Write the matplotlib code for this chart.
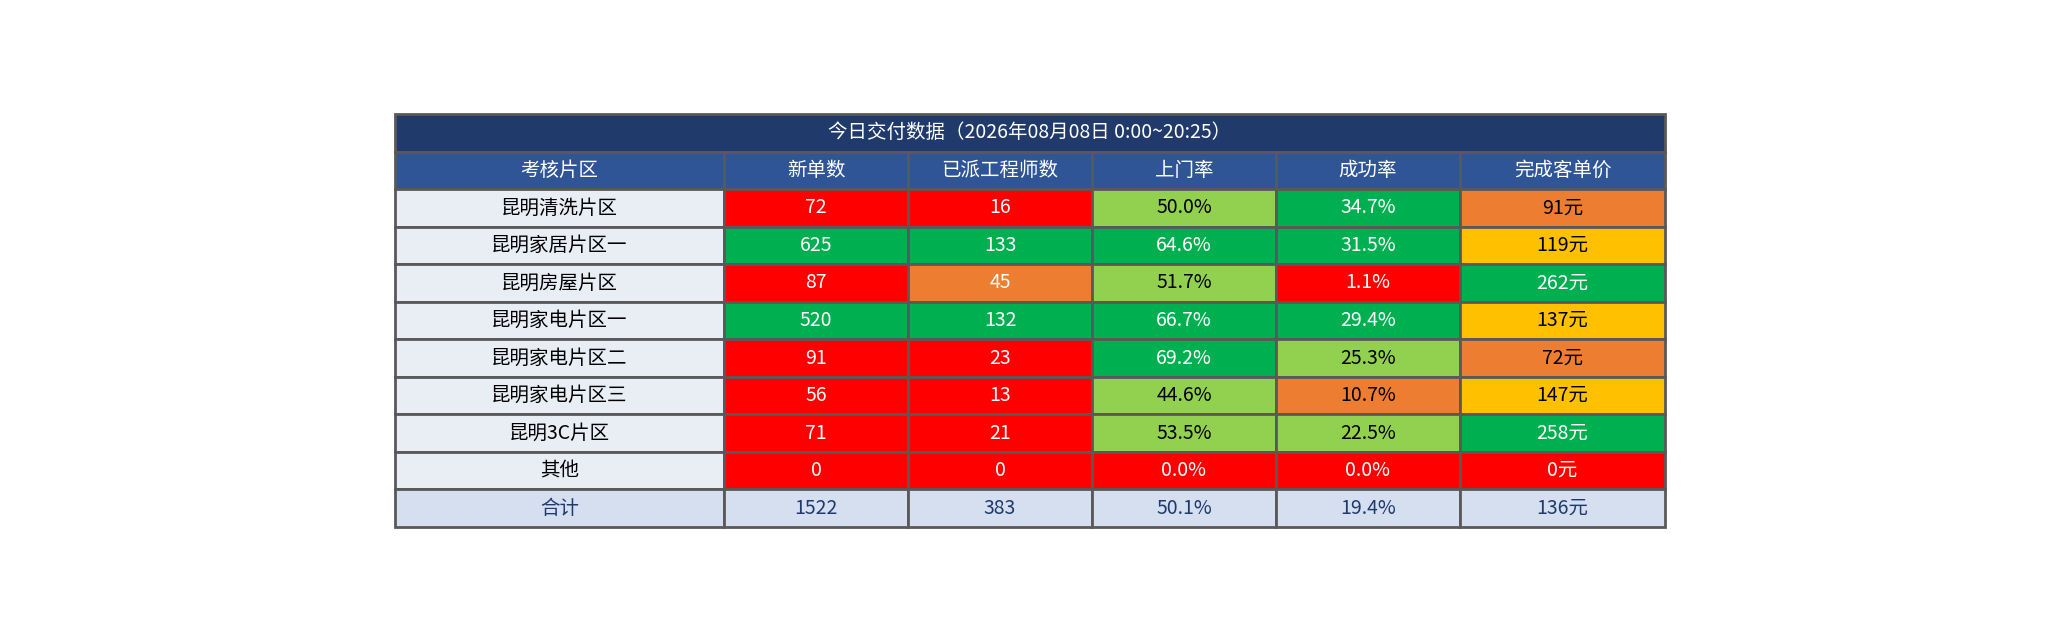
import matplotlib
matplotlib.use("Agg")
import matplotlib.pyplot as plt
from matplotlib.patches import Rectangle

plt.rcParams['font.family'] = ['Noto Sans CJK SC', 'DejaVu Sans']

title = "今日交付数据（2026年08月08日 0:00~20:25）"
headers = ["考核片区", "新单数", "已派工程师数", "上门率", "成功率", "完成客单价"]
regions = ["昆明清洗片区", "昆明家居片区一", "昆明房屋片区", "昆明家电片区一",
           "昆明家电片区二", "昆明家电片区三", "昆明3C片区", "其他"]
new_orders = [72, 625, 87, 520, 91, 56, 71, 0]
engineers = [16, 133, 45, 132, 23, 13, 21, 0]
visit_rate = [50.0, 64.6, 51.7, 66.7, 69.2, 44.6, 53.5, 0.0]
success_rate = [34.7, 31.5, 1.1, 29.4, 25.3, 10.7, 22.5, 0.0]
unit_price = [91, 119, 262, 137, 72, 147, 258, 0]
total = ["合计", "1522", "383", "50.1%", "19.4%", "136元"]

# colour levels per cell: R=red, G=green, L=light green, O=orange, Y=yellow
levels = [
    ["R", "R", "L", "G", "O"],
    ["G", "G", "G", "G", "Y"],
    ["R", "O", "L", "R", "G"],
    ["G", "G", "G", "G", "Y"],
    ["R", "R", "G", "L", "O"],
    ["R", "R", "L", "O", "Y"],
    ["R", "R", "L", "L", "G"],
    ["R", "R", "R", "R", "R"],
]
fills = {"R": "#FF0000", "G": "#00B050", "L": "#92D050", "O": "#ED7D31", "Y": "#FFC000"}

W, H = 2061, 642
fig = plt.figure(figsize=(W / 100, H / 100), dpi=100)
ax = fig.add_axes([0, 0, 1, 1])
ax.set_xlim(0, W)
ax.set_ylim(H, 0)
ax.axis("off")

col_x = [395, 724, 908, 1092, 1276, 1460, 1665]
top, bottom = 114, 527
nrows = 11
rh = (bottom - top) / nrows
edge = "#595959"
fs = 14

def cell(x0, x1, r, fc, text, tc):
    y0 = top + r * rh
    ax.add_patch(Rectangle((x0, y0), x1 - x0, rh, facecolor=fc, edgecolor=edge, lw=2))
    ax.text((x0 + x1) / 2, y0 + rh / 2, text, ha="center", va="center", color=tc, fontsize=fs)

cell(col_x[0], col_x[-1], 0, "#1F3A6B", title, "white")
for j, h in enumerate(headers):
    cell(col_x[j], col_x[j + 1], 1, "#2F5597", h, "white")

for i, reg in enumerate(regions):
    r = i + 2
    cell(col_x[0], col_x[1], r, "#E9EDF4", reg, "black")
    vals = [str(new_orders[i]), str(engineers[i]), f"{visit_rate[i]:.1f}%",
            f"{success_rate[i]:.1f}%", f"{unit_price[i]}元"]
    for j, v in enumerate(vals):
        lv = levels[i][j]
        if lv in ("R", "G") or j < 2:
            tc = "white"
        else:
            tc = "black"
        cell(col_x[j + 1], col_x[j + 2], r, fills[lv], v, tc)

for j, v in enumerate(total):
    cell(col_x[j], col_x[j + 1], 10, "#D6DFF0", v, "#1F3A6B")

fig.savefig("out.png", dpi=100)
